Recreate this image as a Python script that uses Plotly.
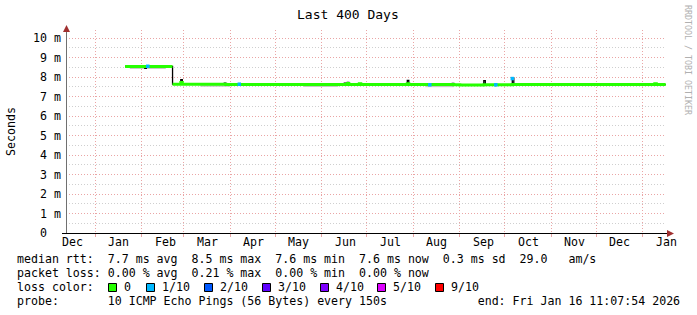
import datetime as dt
import plotly.graph_objects as go

# ---------------- data ----------------
end_time = dt.datetime(2026, 1, 16, 11, 7, 54)
start_time = end_time - dt.timedelta(days=400)

dates = [
    "2025-01-20 20:00", "2025-01-27 12:00", "2025-01-28 06:00", "2025-02-03 00:00",
    "2025-02-04 00:00", "2025-02-21 10:00", "2025-02-21 11:00", "2025-02-21 12:00",
    "2025-02-27 00:00", "2025-02-28 00:00", "2025-03-28 00:00", "2025-03-29 00:00",
    "2025-06-16 00:00", "2025-06-17 00:00", "2025-06-18 00:00", "2025-06-19 00:00",
    "2025-06-26 00:00", "2025-06-27 00:00", "2025-07-28 00:00", "2025-07-29 00:00",
    "2025-08-27 00:00", "2025-08-28 00:00", "2025-09-01 00:00", "2025-09-17 00:00",
    "2025-09-18 00:00", "2025-10-06 00:00", "2025-10-07 00:00", "2025-12-31 00:00",
    "2026-01-09 00:00", "2026-01-10 00:00", "2026-01-16 06:00",
]
# median rtt drawn in loss colour (ms)
median_ms = [
    8.54, 8.54, 8.54, 8.54,
    8.54, 8.54, None, 7.63,
    7.72, 7.63, 7.63, 7.62,
    7.62, 7.62, 7.67, 7.62,
    7.65, 7.61, 7.65, 7.61,
    7.61, 7.60, 7.59, 7.60,
    7.60, 7.61, 7.61, 7.62,
    7.65, 7.61, 7.61,
]
# fine median detail (black)
median_raw_ms = [
    8.55, 8.58, 8.54, 8.44,
    8.54, 8.54, 8.54, 7.63,
    7.86, 7.63, 7.68, 7.62,
    7.68, 7.62, 7.72, 7.62,
    7.65, 7.61, 7.82, 7.61,
    7.67, 7.60, 7.59, 7.81,
    7.60, 7.95, 7.61, 7.62,
    7.65, 7.61, 7.61,
]
# smoke (grey) underneath
smoke_dates = ["2025-01-24", "2025-02-17", "2025-02-18",
               "2025-03-12", "2025-04-01", "2025-04-02",
               "2025-05-20", "2025-06-12", "2025-06-13",
               "2025-08-09", "2025-08-28"]
smoke_ms = [8.46, 8.46, None,
            7.55, 7.55, None,
            7.54, 7.54, None,
            7.53, 7.53]
# points with 1/10 loss
loss1_dates = ["2025-02-05 00:00", "2025-04-07 00:00", "2025-08-12 00:00",
               "2025-09-25 00:00", "2025-10-06 00:00"]
loss1_ms = [8.55, 7.63, 7.60, 7.60, 7.92]

y_tickvals = list(range(0, 11))
y_ticktext = ["0\u00a0\u00a0"] + [f"{v} m" for v in range(1, 11)]

month_starts = ["2024-12-01", "2025-01-01", "2025-02-01", "2025-03-01", "2025-04-01",
                "2025-05-01", "2025-06-01", "2025-07-01", "2025-08-01", "2025-09-01",
                "2025-10-01", "2025-11-01", "2025-12-01", "2026-01-01"]
month_labels = ["Dec", "Jan", "Feb", "Mar", "Apr", "May", "Jun", "Jul", "Aug", "Sep",
                "Oct", "Nov", "Dec", "Jan"]

loss_labels = ["0", "1/10", "2/10", "3/10", "4/10", "5/10", "9/10"]
loss_colors = ["#26ff00", "#00b8ff", "#0059ff", "#5e00ff", "#7e00ff", "#dd00ff", "#ff0000"]

title_text = "Last 400 Days"
line1 = "median rtt:  7.7 ms avg  8.5 ms max  7.6 ms min  7.6 ms now  0.3 ms sd  29.0   am/s"
line2 = "packet loss: 0.00 % avg  0.21 % max  0.00 % min  0.00 % now"
line3 = "loss color:"
line4 = "probe:       10 ICMP Echo Pings (56 Bytes) every 150s             end: Fri Jan 16 11:07:54 2026"

# ---------------- layout helpers ----------------
W, H = 697, 315
L, R, T, B = 66, 31, 30, 82
PW, PH = W - L - R, H - T - B
MONO = "DejaVu Sans Mono"
FS = 11.6


def px(x):
    return (x - L) / PW


def py(y):
    return (H - B - y) / PH


def date_to_paper(d):
    # linear date scale of the x axis, for labels that may sit just past the range end
    return (d - start_time).total_seconds() / (end_time - start_time).total_seconds()


def nb(s):
    return s.replace(" ", "\u00a0")


fig = go.Figure()
fig.add_trace(go.Scatter(x=smoke_dates, y=[v / 1000 if v is not None else None for v in smoke_ms],
                         mode="lines", line=dict(color="#c8c8c8", width=2, shape="hv"),
                         connectgaps=False, hoverinfo="skip"))
fig.add_trace(go.Scatter(x=dates, y=[v / 1000 for v in median_raw_ms], mode="lines",
                         line=dict(color="#000000", width=1.3, shape="hv"), hoverinfo="skip"))
fig.add_trace(go.Scatter(x=dates, y=[v / 1000 if v is not None else None for v in median_ms],
                         mode="lines", line=dict(color=loss_colors[0], width=3, shape="hv"),
                         connectgaps=False, hoverinfo="skip"))
fig.add_trace(go.Scatter(x=loss1_dates, y=[v / 1000 for v in loss1_ms], mode="markers",
                         marker=dict(color=loss_colors[1], symbol="square", size=3.5,
                                     line=dict(width=0)), hoverinfo="skip"))

red_grid = "#eaa5a5"
grey_grid = "#cfcfcf"

fig.update_layout(
    width=W, height=H, margin=dict(l=L, r=R, t=T, b=B, autoexpand=False),
    paper_bgcolor="white", plot_bgcolor="white", showlegend=False,
    font=dict(family=MONO, size=FS, color="black"),
    xaxis=dict(type="date", range=[start_time, end_time], tickvals=month_starts[1:],
               showticklabels=False, showgrid=True, gridcolor=red_grid, griddash="1px,2px",
               gridwidth=1, ticks="outside", ticklen=3, tickcolor=red_grid,
               showline=False, zeroline=False),
    yaxis=dict(range=[0, PH / 19.5 / 1000], tickvals=[v / 1000 for v in y_tickvals],
               ticktext=y_ticktext, showgrid=True, gridcolor=red_grid, griddash="1px,2px",
               gridwidth=1, ticks="", ticklabelstandoff=4, showline=False, zeroline=False,
               tickfont=dict(family=MONO, size=FS, color="black"),
               minor=dict(dtick=0.0005, showgrid=True, gridcolor=grey_grid,
                          griddash="1px,2px", gridwidth=1)),
)

shapes = []
# axes lines
shapes.append(dict(type="line", xref="paper", yref="paper", x0=px(66.5), x1=px(66.5),
                   y0=py(233), y1=py(29), line=dict(color="#707070", width=1)))
shapes.append(dict(type="line", xref="paper", yref="paper", x0=px(62), x1=px(668),
                   y0=py(233.5), y1=py(233.5), line=dict(color="#000000", width=1)))
arrow = "#a03030"
shapes.append(dict(type="path", xref="paper", yref="paper",
                   path=f"M {px(63)} {py(32)} L {px(70)} {py(32)} L {px(66.5)} {py(25)} Z",
                   fillcolor=arrow, line=dict(color=arrow, width=0)))
shapes.append(dict(type="path", xref="paper", yref="paper",
                   path=f"M {px(667)} {py(230)} L {px(667)} {py(237)} L {px(674)} {py(233.5)} Z",
                   fillcolor=arrow, line=dict(color=arrow, width=0)))

annotations = []
annotations.append(dict(text=title_text, xref="paper", yref="paper", x=px(348), y=py(14),
                        xanchor="center", yanchor="middle", showarrow=False,
                        font=dict(family=MONO, size=13, color="black")))
annotations.append(dict(text="Seconds", xref="paper", yref="paper", x=px(11), y=py(132),
                        xanchor="center", yanchor="middle", textangle=-90, showarrow=False,
                        font=dict(family=MONO, size=FS, color="black")))
annotations.append(dict(text=nb("RRDTOOL / TOBI OETIKER"), xref="paper", yref="paper",
                        x=px(688), y=py(60), xanchor="center", yanchor="middle",
                        textangle=90, showarrow=False,
                        font=dict(family=MONO, size=8.3, color="#b0b0b0")))
for ms, lab in zip(month_starts, month_labels):
    d = dt.datetime.fromisoformat(ms) + dt.timedelta(days=15.5)
    annotations.append(dict(text=lab, xref="paper", yref="paper", x=date_to_paper(d), y=py(242),
                            xanchor="center", yanchor="middle", showarrow=False,
                            font=dict(family=MONO, size=FS, color="black")))
for txt, yy in [(line1, 259), (line2, 273), (line3, 287), (line4, 301)]:
    annotations.append(dict(text=nb(txt), xref="paper", yref="paper", x=px(16), y=py(yy),
                            xanchor="left", yanchor="middle", showarrow=False, borderpad=0,
                            font=dict(family=MONO, size=FS, color="black")))
box_x = [108, 146, 204, 262, 320, 377, 435]
for bx, lab, col in zip(box_x, loss_labels, loss_colors):
    shapes.append(dict(type="rect", xref="paper", yref="paper", x0=px(bx + 0.5), x1=px(bx + 8.5),
                       y0=py(283.5), y1=py(291.5), fillcolor=col,
                       line=dict(color="black", width=1)))
    annotations.append(dict(text=lab, xref="paper", yref="paper", x=px(bx + 15), y=py(287),
                            xanchor="left", yanchor="middle", showarrow=False, borderpad=0,
                            font=dict(family=MONO, size=FS, color="black")))

fig.update_layout(shapes=shapes, annotations=annotations)
fig.write_html("out.html")
